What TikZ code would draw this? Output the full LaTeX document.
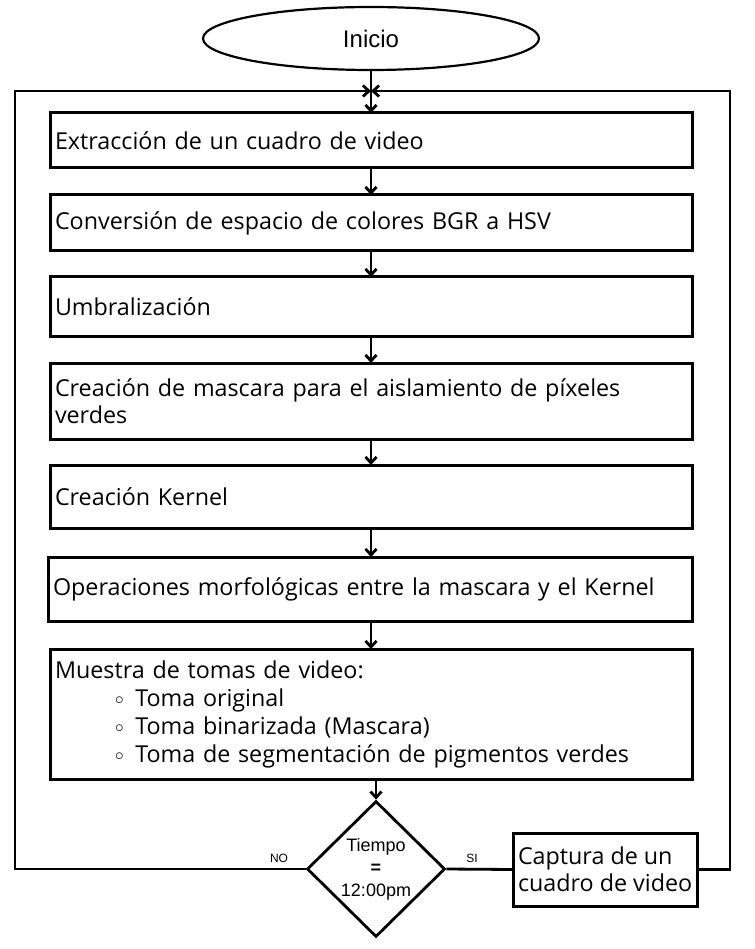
\documentclass[tikz,border=0pt]{standalone}
\usepackage{fontspec}
\setmainfont{Open Sans}
\newfontfamily\arialfont{Liberation Sans}
\usetikzlibrary{shapes.geometric,arrows.meta}
\newcommand{\bul}{\hspace*{60pt}\raisebox{2pt}{\fontsize{16}{16}\selectfont$\circ$}\enspace}

\begin{document}
\begin{tikzpicture}[x=1pt, y=-1pt,
	proc/.style={draw, line width=3pt, rectangle, anchor=north west, outer sep=0pt, inner xsep=5pt, inner ysep=0pt, align=left, font=\fontsize{23.3}{27}\selectfont},
	lbl/.style={font=\arialfont\fontsize{12}{12}\selectfont},
	line/.style={line width=2.8pt},
	arr/.style={line, -{Straight Barb[length=6pt,width=11pt]}}]
	\useasboundingbox (0,0) rectangle (754,949);
	\node[draw, ellipse, line width=2.2pt, minimum width=336pt, minimum height=63pt, inner sep=0pt, font=\arialfont\fontsize{24}{24}\selectfont] (I0) at (371,38.5) {Inicio};
	\node[proc, text width=632pt, minimum height=55pt] (P1) at (50,113) {Extracción de un cuadro de video};
	\node[proc, text width=632pt, minimum height=56pt] (P2) at (50,195) {Conversión de espacio de colores BGR a HSV};
	\node[proc, text width=632pt, minimum height=59pt] (P3) at (50,277) {Umbralización};
	\node[proc, text width=632pt, minimum height=76pt] (P4) at (50,363) {Creación de mascara para el aislamiento de píxeles\\verdes};
	\node[proc, text width=632pt, minimum height=63pt] (P5) at (50,465) {Creación Kernel};
	\node[proc, text width=634pt, minimum height=64pt] (P6) at (48,557) {Operaciones morfológicas entre la mascara y el Kernel};
	\node[proc, text width=632pt, minimum height=130pt, font=\fontsize{23.3}{28}\selectfont] (P7) at (50,649) {Muestra de tomas de video:\\
		\bul Toma original\\
		\bul Toma binarizada (Mascara)\\
		\bul Toma de segmentación de pigmentos verdes};
	\node[draw, diamond, line width=2.8pt, minimum width=138pt, minimum height=136pt, inner sep=0pt, align=center, font=\arialfont\fontsize{18}{22.5}\selectfont] (D) at (376,869) {Tiempo\\\textbf{=}\\12:00pm};
	\node[proc, minimum width=184pt, minimum height=73pt] (C) at (513,833) {Captura de un\\cuadro de video};
	\node[lbl] (NO) at (279,858) {NO};
	\node[lbl] (SI) at (472,858) {SI};
	\coordinate (L) at (15,91);
	\coordinate (R) at (730,91);
	\coordinate (M) at (371,91);
	\draw[arr] (I0.south) -- (I0.south |- P1.north);
	\draw[arr] (P1.south) -- (P1.south |- P2.north);
	\draw[arr] (P2.south) -- (P2.south |- P3.north);
	\draw[arr] (P3.south) -- (P3.south |- P4.north);
	\draw[arr] (P4.south) -- (P4.south |- P5.north);
	\draw[arr] (P5.south) -- (P5.south |- P6.north);
	\draw[arr] (P5.south |- P6.south) -- (P5.south |- P7.north);
	\draw[arr] (P7.south -| D.north) -- (D.north);
	\draw[line] (D.east) -- (C.west);
	\draw[arr] (D.west) -| (L) -- (M);
	\draw[arr] (C.east) -| (R) -- (M);
\end{tikzpicture}
\end{document}
